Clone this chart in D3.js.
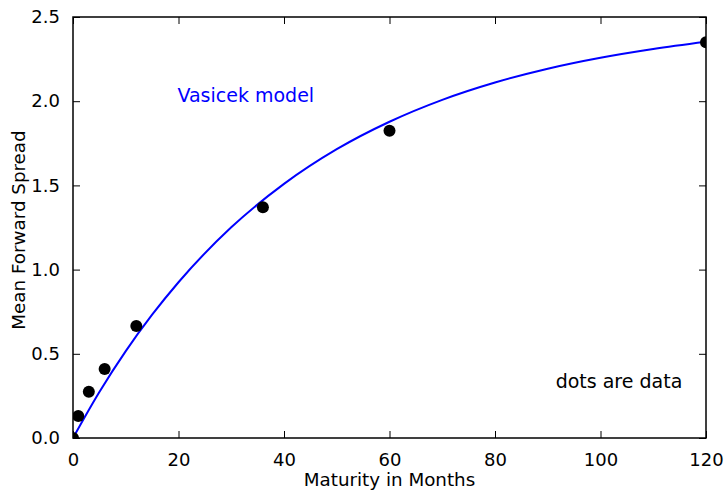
<!DOCTYPE html>
<html>
<head>
<meta charset="utf-8">
<script src="https://cdn.jsdelivr.net/npm/d3@7"></script>
<style>
  html, body { margin: 0; padding: 0; background: #fff; }
  svg { display: block; font-family: "DejaVu Sans", sans-serif; }
</style>
</head>
<body>
<svg id="chart" width="727" height="493"></svg>
<script>
// Observed mean forward spreads by maturity (months)
const dataMonths = [0, 1, 3, 6, 12, 36, 60, 120];
const dataSpread = [0.0, 0.13, 0.275, 0.41, 0.665, 1.37, 1.825, 2.35];

// Fitted Vasicek model curve, sampled along maturity
const modelMonths = [0, 5, 10, 15, 20, 30, 40, 50, 60, 70, 80, 90, 100, 110, 120];
const modelSpread = [0.0, 0.273, 0.516, 0.732, 0.925, 1.251, 1.509, 1.715, 1.878, 2.008, 2.111, 2.193, 2.258, 2.310, 2.353];

const xTicks = [0, 20, 40, 60, 80, 100, 120];
const yTicks = [0.0, 0.5, 1.0, 1.5, 2.0, 2.5];

const svg = d3.select("#chart");
const plotLeft = 73, plotRight = 706, plotTop = 17, plotBottom = 438;

const x = d3.scaleLinear().domain([0, 120]).range([plotLeft, plotRight]);
const y = d3.scaleLinear().domain([0, 2.5]).range([plotBottom, plotTop]);

const tickLen = 7;

// Axes with inward ticks on all four sides
const axisB = d3.axisBottom(x).tickValues(xTicks).tickFormat(d3.format("d"))
  .tickSizeInner(-tickLen).tickSizeOuter(0).tickPadding(tickLen + 8);
const axisL = d3.axisLeft(y).tickValues(yTicks).tickFormat(d3.format(".1f"))
  .tickSizeInner(-tickLen).tickSizeOuter(0).tickPadding(tickLen + 6);
const axisT = d3.axisTop(x).tickValues(xTicks).tickFormat("")
  .tickSizeInner(-tickLen).tickSizeOuter(0);
const axisR = d3.axisRight(y).tickValues(yTicks).tickFormat("")
  .tickSizeInner(-tickLen).tickSizeOuter(0);

function styleAxis(g) {
  g.select(".domain").remove();
  g.selectAll(".tick line").attr("stroke", "#000").attr("stroke-width", 1);
  g.selectAll(".tick text").attr("fill", "#000")
    .style("font-size", "18px").style("font-family", "DejaVu Sans, sans-serif");
}

svg.append("g").attr("transform", `translate(0,${plotBottom})`).call(axisB).call(styleAxis);
svg.append("g").attr("transform", `translate(${plotLeft},0)`).call(axisL).call(styleAxis);
svg.append("g").attr("transform", `translate(0,${plotTop})`).call(axisT).call(styleAxis);
svg.append("g").attr("transform", `translate(${plotRight},0)`).call(axisR).call(styleAxis);

// Clip marks to the plot frame
svg.append("clipPath").attr("id", "plot-clip")
  .append("rect").attr("x", plotLeft).attr("y", plotTop)
  .attr("width", plotRight - plotLeft).attr("height", plotBottom - plotTop);

const plot = svg.append("g").attr("clip-path", "url(#plot-clip)");

// Model curve
const line = d3.line()
  .x((d, i) => x(modelMonths[i]))
  .y(d => y(d))
  .curve(d3.curveMonotoneX);

plot.append("path")
  .datum(modelSpread)
  .attr("d", line)
  .attr("fill", "none")
  .attr("stroke", "#0000ff")
  .attr("stroke-width", 2);

// Data points
plot.selectAll("circle.dot")
  .data(dataSpread)
  .join("circle")
  .attr("class", "dot")
  .attr("cx", (d, i) => x(dataMonths[i]))
  .attr("cy", d => y(d))
  .attr("r", 6)
  .attr("fill", "#000");

// Plot frame
svg.append("rect")
  .attr("x", plotLeft).attr("y", plotTop)
  .attr("width", plotRight - plotLeft).attr("height", plotBottom - plotTop)
  .attr("fill", "none").attr("stroke", "#000").attr("stroke-width", 1.5);

// Annotations
svg.append("text")
  .attr("x", x(19.8)).attr("y", 102)
  .attr("fill", "#0000ff")
  .style("font-size", "19px")
  .text("Vasicek model");

svg.append("text")
  .attr("x", x(91.5)).attr("y", 388)
  .attr("fill", "#000")
  .style("font-size", "19px")
  .text("dots are data");

// Axis titles
svg.append("text")
  .attr("x", (plotLeft + plotRight) / 2).attr("y", 486)
  .attr("text-anchor", "middle")
  .attr("fill", "#000")
  .style("font-size", "18.3px")
  .text("Maturity in Months");

svg.append("text")
  .attr("transform", `translate(25,230) rotate(-90)`)
  .attr("text-anchor", "middle")
  .attr("fill", "#000")
  .style("font-size", "18.3px")
  .text("Mean Forward Spread");
</script>
</body>
</html>
